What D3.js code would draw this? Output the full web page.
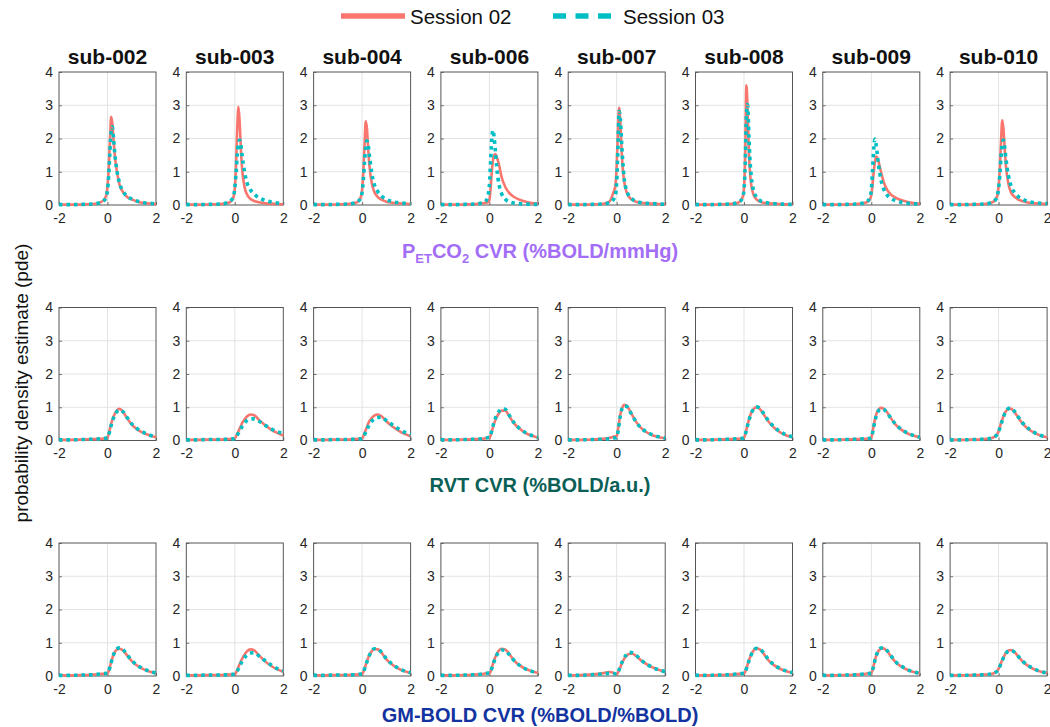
<!DOCTYPE html>
<html>
<head>
<meta charset="utf-8">
<script src="https://cdn.jsdelivr.net/npm/d3@7/dist/d3.min.js"></script>
<style>
  html, body { margin: 0; padding: 0; background: #fff; }
  svg text { font-family: "Liberation Sans", Arial, Helvetica, sans-serif; }
</style>
</head>
<body>
<svg id="chart" width="1050" height="727"></svg>
<script>
// ---- data ---------------------------------------------------------------
const subjects = ["sub-002", "sub-003", "sub-004", "sub-006", "sub-007", "sub-008", "sub-009", "sub-010"];
const sessions = ["Session 02", "Session 03"];
const xTicks = [-2, 0, 2];
const yTicks = [0, 1, 2, 3, 4];

// CVR grid at which each density estimate is evaluated
const cvrGrid = [-2, -1.5, -1, -0.6, -0.3, -0.15, -0.05, 0, 0.05, 0.1, 0.15, 0.2, 0.25, 0.3, 0.4, 0.5, 0.65, 0.8, 1.0, 1.25, 1.5, 1.75, 2];

// PETCO2 CVR densities, one array per subject
const petco2S02 = [
  [0.01,0.01,0.02,0.03,0.08,0.15,0.3,0.55,1.1,1.9,2.65,2.45,1.95,1.5,0.95,0.6,0.38,0.25,0.17,0.1,0.06,0.04,0.03],
  [0.01,0.01,0.02,0.03,0.06,0.12,0.25,0.5,1.2,2.3,2.95,2.5,1.7,1.1,0.55,0.32,0.18,0.12,0.08,0.05,0.04,0.03,0.02],
  [0.01,0.01,0.02,0.03,0.06,0.12,0.25,0.45,1.0,1.8,2.52,2.3,1.7,1.2,0.65,0.4,0.24,0.16,0.1,0.07,0.05,0.04,0.03],
  [0.01,0.01,0.02,0.03,0.05,0.07,0.09,0.15,0.5,1.0,1.35,1.5,1.53,1.45,1.2,0.85,0.55,0.38,0.25,0.16,0.1,0.06,0.04],
  [0.01,0.01,0.02,0.03,0.1,0.35,0.6,1.2,2.2,2.92,2.5,1.7,1.1,0.75,0.4,0.25,0.15,0.1,0.07,0.05,0.04,0.03,0.02],
  [0.01,0.01,0.02,0.03,0.06,0.12,0.25,0.5,1.5,3.6,2.8,1.6,0.95,0.6,0.3,0.18,0.1,0.07,0.05,0.04,0.03,0.02,0.02],
  [0.01,0.01,0.02,0.03,0.06,0.1,0.18,0.3,0.6,1.0,1.3,1.46,1.42,1.3,1.0,0.72,0.46,0.32,0.22,0.14,0.09,0.06,0.04],
  [0.01,0.01,0.02,0.03,0.07,0.14,0.3,0.55,1.1,1.9,2.55,2.3,1.7,1.2,0.65,0.4,0.25,0.17,0.11,0.07,0.05,0.04,0.03]
];
const petco2S03 = [
  [0.01,0.01,0.02,0.03,0.07,0.13,0.25,0.45,0.9,1.6,2.2,2.35,2.0,1.55,0.98,0.65,0.4,0.27,0.18,0.11,0.07,0.05,0.03],
  [0.01,0.01,0.02,0.03,0.07,0.14,0.28,0.5,0.95,1.5,1.85,1.95,1.8,1.5,1.0,0.68,0.45,0.32,0.22,0.14,0.09,0.06,0.04],
  [0.01,0.01,0.02,0.03,0.06,0.12,0.22,0.38,0.75,1.3,1.75,1.93,1.8,1.5,0.95,0.62,0.4,0.27,0.17,0.1,0.07,0.05,0.03],
  [0.01,0.01,0.02,0.03,0.06,0.12,0.3,0.6,1.3,2.0,2.25,2.0,1.6,1.15,0.6,0.35,0.18,0.1,0.06,0.04,0.03,0.02,0.02],
  [0.01,0.01,0.02,0.03,0.07,0.15,0.3,0.7,1.7,2.82,2.6,1.9,1.3,0.85,0.45,0.28,0.17,0.11,0.07,0.05,0.04,0.03,0.02],
  [0.01,0.01,0.02,0.03,0.06,0.12,0.25,0.45,1.2,2.7,3.02,2.1,1.3,0.85,0.42,0.25,0.14,0.09,0.06,0.04,0.03,0.02,0.02],
  [0.01,0.01,0.02,0.03,0.06,0.12,0.25,0.45,1.0,1.7,1.98,1.8,1.5,1.2,0.75,0.5,0.3,0.2,0.13,0.08,0.05,0.04,0.03],
  [0.01,0.01,0.02,0.03,0.07,0.14,0.28,0.5,0.9,1.45,1.85,1.95,1.75,1.4,0.9,0.6,0.38,0.26,0.17,0.1,0.07,0.05,0.04]
];

// RVT CVR densities
const rvtS02 = [
  [0.02,0.02,0.03,0.04,0.05,0.06,0.07,0.08,0.2,0.35,0.5,0.62,0.72,0.8,0.92,0.95,0.85,0.68,0.48,0.32,0.22,0.15,0.1],
  [0.02,0.02,0.03,0.03,0.04,0.05,0.05,0.06,0.12,0.2,0.28,0.36,0.44,0.52,0.63,0.72,0.78,0.76,0.62,0.46,0.33,0.23,0.15],
  [0.02,0.02,0.03,0.03,0.04,0.05,0.05,0.06,0.13,0.22,0.32,0.41,0.5,0.58,0.68,0.75,0.78,0.73,0.58,0.42,0.3,0.2,0.13],
  [0.02,0.02,0.03,0.04,0.05,0.07,0.08,0.08,0.15,0.27,0.4,0.52,0.62,0.7,0.83,0.9,0.9,0.75,0.53,0.35,0.22,0.14,0.09],
  [0.02,0.02,0.03,0.05,0.08,0.11,0.13,0.13,0.3,0.55,0.78,0.93,1.02,1.07,1.06,0.95,0.75,0.56,0.38,0.24,0.15,0.1,0.07],
  [0.02,0.02,0.03,0.04,0.05,0.06,0.07,0.08,0.18,0.33,0.48,0.62,0.74,0.83,0.95,1.0,0.95,0.8,0.58,0.38,0.24,0.15,0.1],
  [0.02,0.02,0.03,0.04,0.05,0.06,0.07,0.08,0.25,0.45,0.63,0.77,0.87,0.93,0.98,0.96,0.85,0.68,0.48,0.32,0.21,0.14,0.1],
  [0.02,0.02,0.03,0.04,0.07,0.12,0.2,0.28,0.4,0.52,0.63,0.73,0.82,0.88,0.95,0.96,0.86,0.7,0.5,0.33,0.22,0.14,0.1]
];
const rvtS03 = [
  [0.02,0.02,0.03,0.04,0.05,0.06,0.07,0.07,0.17,0.3,0.45,0.58,0.68,0.77,0.88,0.92,0.86,0.7,0.5,0.34,0.24,0.16,0.11],
  [0.02,0.02,0.03,0.03,0.04,0.05,0.05,0.06,0.1,0.16,0.22,0.29,0.35,0.42,0.52,0.6,0.64,0.65,0.58,0.46,0.35,0.27,0.2],
  [0.02,0.02,0.03,0.03,0.04,0.05,0.05,0.06,0.1,0.17,0.25,0.33,0.41,0.48,0.58,0.65,0.69,0.7,0.6,0.47,0.35,0.25,0.17],
  [0.02,0.02,0.03,0.04,0.05,0.07,0.09,0.09,0.17,0.3,0.44,0.57,0.67,0.76,0.88,0.95,0.94,0.78,0.55,0.36,0.23,0.15,0.09],
  [0.02,0.02,0.03,0.04,0.05,0.07,0.08,0.09,0.25,0.5,0.75,0.92,1.0,1.04,1.03,0.93,0.74,0.56,0.38,0.25,0.16,0.11,0.07],
  [0.02,0.02,0.03,0.04,0.05,0.06,0.07,0.08,0.17,0.31,0.46,0.6,0.72,0.82,0.95,1.01,0.97,0.82,0.6,0.4,0.26,0.17,0.11],
  [0.02,0.02,0.03,0.04,0.05,0.06,0.07,0.08,0.22,0.41,0.59,0.73,0.83,0.9,0.95,0.94,0.84,0.68,0.49,0.33,0.22,0.15,0.1],
  [0.02,0.02,0.03,0.04,0.07,0.12,0.19,0.26,0.37,0.49,0.6,0.7,0.8,0.87,0.96,0.98,0.88,0.72,0.52,0.35,0.23,0.15,0.1]
];

// GM-BOLD CVR densities
const gmboldS02 = [
  [0.02,0.02,0.03,0.04,0.06,0.07,0.08,0.07,0.15,0.28,0.42,0.54,0.64,0.72,0.8,0.82,0.76,0.63,0.45,0.3,0.2,0.13,0.09],
  [0.02,0.02,0.03,0.03,0.04,0.05,0.05,0.05,0.1,0.18,0.27,0.36,0.44,0.52,0.64,0.74,0.8,0.77,0.62,0.44,0.3,0.2,0.13],
  [0.02,0.02,0.03,0.03,0.04,0.05,0.06,0.06,0.12,0.22,0.33,0.44,0.54,0.63,0.75,0.81,0.8,0.7,0.5,0.34,0.22,0.14,0.09],
  [0.02,0.02,0.03,0.04,0.06,0.08,0.09,0.08,0.14,0.25,0.37,0.48,0.58,0.66,0.77,0.82,0.8,0.68,0.48,0.32,0.21,0.14,0.09],
  [0.02,0.03,0.05,0.08,0.12,0.1,0.06,0.05,0.1,0.18,0.27,0.36,0.44,0.51,0.6,0.66,0.67,0.6,0.47,0.35,0.25,0.18,0.13],
  [0.02,0.02,0.03,0.04,0.06,0.07,0.08,0.07,0.13,0.23,0.35,0.46,0.56,0.65,0.77,0.83,0.8,0.68,0.48,0.32,0.21,0.14,0.09],
  [0.02,0.02,0.03,0.04,0.06,0.08,0.09,0.08,0.18,0.33,0.48,0.6,0.69,0.76,0.82,0.83,0.75,0.6,0.42,0.28,0.18,0.12,0.08],
  [0.02,0.02,0.03,0.04,0.06,0.1,0.16,0.22,0.3,0.39,0.48,0.56,0.63,0.69,0.76,0.78,0.72,0.6,0.43,0.29,0.19,0.13,0.09]
];
const gmboldS03 = [
  [0.02,0.02,0.03,0.04,0.06,0.07,0.08,0.07,0.14,0.26,0.4,0.53,0.64,0.73,0.82,0.85,0.79,0.65,0.47,0.31,0.21,0.14,0.09],
  [0.02,0.02,0.03,0.03,0.04,0.05,0.05,0.05,0.09,0.15,0.22,0.3,0.37,0.44,0.55,0.63,0.69,0.7,0.6,0.46,0.33,0.22,0.15],
  [0.02,0.02,0.03,0.03,0.04,0.05,0.06,0.06,0.11,0.21,0.32,0.43,0.53,0.62,0.75,0.82,0.81,0.71,0.52,0.35,0.23,0.15,0.1],
  [0.02,0.02,0.03,0.04,0.06,0.08,0.09,0.08,0.13,0.23,0.34,0.45,0.55,0.63,0.73,0.78,0.77,0.66,0.48,0.32,0.21,0.14,0.09],
  [0.02,0.02,0.04,0.06,0.08,0.08,0.06,0.05,0.1,0.19,0.29,0.38,0.46,0.54,0.64,0.71,0.7,0.62,0.48,0.35,0.25,0.18,0.13],
  [0.02,0.02,0.03,0.04,0.06,0.07,0.08,0.07,0.12,0.22,0.34,0.45,0.55,0.64,0.76,0.83,0.81,0.7,0.5,0.33,0.22,0.15,0.1],
  [0.02,0.02,0.03,0.04,0.06,0.07,0.08,0.07,0.17,0.32,0.47,0.6,0.7,0.77,0.84,0.85,0.77,0.62,0.43,0.29,0.19,0.12,0.08],
  [0.02,0.02,0.03,0.04,0.06,0.1,0.15,0.21,0.29,0.38,0.47,0.55,0.62,0.68,0.75,0.77,0.72,0.6,0.44,0.3,0.2,0.13,0.09]
];

const rowLabels = [
  { parts: [["P", 0], ["ET", 1], ["CO", 0], ["2", 1], [" CVR (%BOLD/mmHg)", 0]], color: "#a36ef5" },
  { parts: [["RVT CVR (%BOLD/a.u.)", 0]], color: "#0b5f57" },
  { parts: [["GM-BOLD CVR (%BOLD/%BOLD)", 0]], color: "#1233a0" }
];

// ---- layout -------------------------------------------------------------
const panelW = 97, panelH = 133;
const colX = d3.scaleLinear().domain([0, 1]).range([59, 59 + 127.3]);
const rowY = [72, 307.5, 543];
const rowTitleY = [258, 492, 722];
const colorS02 = "#f8766d", colorS03 = "#00bfc4";
const tickFmt = d => String(d); // plain hyphen for negatives

const rows = [
  [petco2S02, petco2S03],
  [rvtS02, rvtS03],
  [gmboldS02, gmboldS03]
];

const svg = d3.select("#chart");
const x = d3.scaleLinear().domain([-2, 2]).range([0, panelW]);
const y = d3.scaleLinear().domain([0, 4]).range([panelH, 0]);

const line = d3.line()
  .x((d, i) => x(cvrGrid[i]))
  .y(d => y(d))
  .curve(d3.curveMonotoneX);

rows.forEach((series, r) => {
  subjects.forEach((sub, c) => {
    const g = svg.append("g")
      .attr("transform", `translate(${colX(c)},${rowY[r]})`);

    // grid lines
    g.append("g").selectAll("line").data(yTicks.slice(1, -1)).join("line")
      .attr("x1", 0).attr("x2", panelW)
      .attr("y1", d => y(d)).attr("y2", d => y(d))
      .attr("stroke", "#e3e3e3").attr("stroke-width", 1);
    g.append("g").selectAll("line").data([0]).join("line")
      .attr("y1", 0).attr("y2", panelH)
      .attr("x1", d => x(d)).attr("x2", d => x(d))
      .attr("stroke", "#e3e3e3").attr("stroke-width", 1);

    // axes
    const ax = g.append("g").attr("transform", `translate(0,${panelH})`)
      .call(d3.axisBottom(x).tickValues(xTicks).tickSize(-3).tickPadding(8).tickFormat(tickFmt));
    const ay = g.append("g")
      .call(d3.axisLeft(y).tickValues(yTicks).tickSize(-3).tickPadding(6).tickFormat(tickFmt));
    [ax, ay].forEach(a => {
      a.select(".domain").remove();
      a.selectAll(".tick line").attr("stroke", "#555").attr("stroke-width", 0.8);
      a.selectAll(".tick text").attr("fill", "#262626").style("font-size", "14px")
        .style("font-family", "'Liberation Sans', Arial, sans-serif");
    });

    // box
    g.append("rect").attr("width", panelW).attr("height", panelH)
      .attr("fill", "none").attr("stroke", "#555").attr("stroke-width", 1);

    // densities
    g.append("path").datum(series[0][c])
      .attr("d", line).attr("fill", "none")
      .attr("stroke", colorS02).attr("stroke-width", 2.6)
      .attr("stroke-linejoin", "round");
    g.append("path").datum(series[1][c])
      .attr("d", line).attr("fill", "none")
      .attr("stroke", colorS03).attr("stroke-width", 3.6)
      .attr("stroke-dasharray", "3.5,4");

    if (r === 0) {
      g.append("text").attr("x", panelW / 2).attr("y", -8)
        .attr("text-anchor", "middle").attr("font-weight", "bold")
        .style("font-size", "21px").attr("fill", "#111").text(sub);
    }
  });

  // row title
  const lbl = rowLabels[r];
  const t = svg.append("text").attr("x", 540).attr("y", rowTitleY[r])
    .attr("text-anchor", "middle").attr("font-weight", "bold")
    .style("font-size", "20px").attr("fill", lbl.color);
  lbl.parts.forEach(([s, sub], i) => {
    const ts = t.append("tspan").text(s);
    if (sub) ts.style("font-size", "13px").attr("dy", 5);
    else if (i > 0) ts.attr("dy", -5);
  });
});

// y-axis label
svg.append("text")
  .attr("transform", "translate(28,383) rotate(-90)")
  .attr("text-anchor", "middle").style("font-size", "19px").attr("fill", "#111")
  .text("probability density estimate (pde)");

// legend
const legend = svg.append("g");
legend.append("line").attr("x1", 341).attr("x2", 405).attr("y1", 16).attr("y2", 16)
  .attr("stroke", colorS02).attr("stroke-width", 5.5);
legend.append("text").attr("x", 410).attr("y", 24).style("font-size", "20.5px")
  .attr("fill", "#111").text(sessions[0]);
legend.append("line").attr("x1", 553).attr("x2", 611).attr("y1", 16).attr("y2", 16)
  .attr("stroke", colorS03).attr("stroke-width", 5.5).attr("stroke-dasharray", "13,9.5");
legend.append("text").attr("x", 623).attr("y", 24).style("font-size", "20.5px")
  .attr("fill", "#111").text(sessions[1]);
</script>
</body>
</html>
